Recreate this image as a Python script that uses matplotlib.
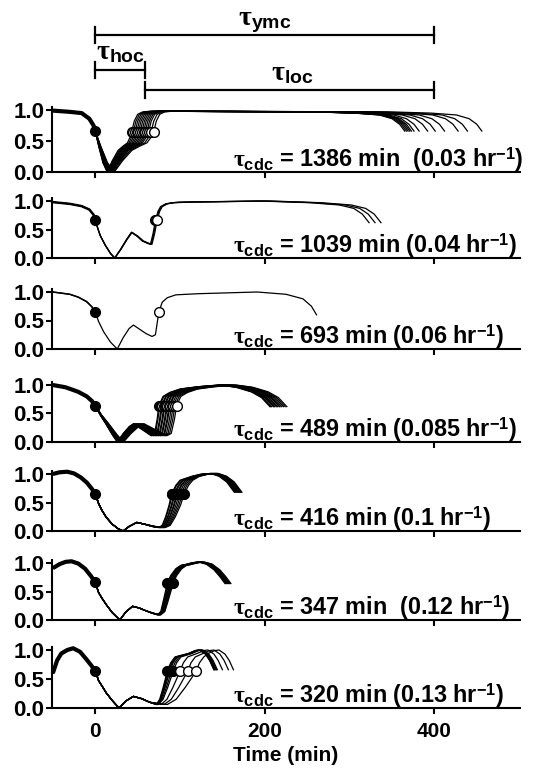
import numpy as np
import matplotlib
matplotlib.use('Agg')
import matplotlib.pyplot as plt

plt.rcParams['font.family'] = ['Liberation Sans', 'DejaVu Sans']
plt.rcParams['font.weight'] = 'bold'
plt.rcParams['mathtext.fontset'] = 'custom'
plt.rcParams['mathtext.rm'] = 'Liberation Serif'
plt.rcParams['mathtext.bf'] = 'Liberation Sans:bold'
plt.rcParams['mathtext.it'] = 'Liberation Serif:italic'

# ---- data (time in min, normalised level) ----
cdc_min = ['1386', '1039', '693', '489', '416', '347', '320']
rate_hr = ['0.03', '0.04', '0.06', '0.085', '0.1', '0.12', '0.13']
label_gap = ['  ', ' ', ' ', ' ', ' ', '  ', ' ']

# panel 1 (1386 min)
p1_head_x = [-50, -30, -16, -7, -2, 0]
p1_head_y = [0.99, 0.97, 0.95, 0.86, 0.75, 0.66]
p1_body_x = [0, 4, 9, 14, 20, 27, 33, 38, 41, 43, 46, 50, 56, 65]
p1_body_y = [0.66, 0.42, 0.15, 0.0, 0.18, 0.35, 0.42, 0.47, 0.56, 0.65, 0.82, 0.93, 0.97, 0.98]
p1_tail_dx = [-110, -60, -30, -15, -6, 0]
p1_tail_y = [0.97, 0.95, 0.92, 0.86, 0.77, 0.66]
p1_circles = [43, 45, 47, 49, 51, 53, 55, 57, 59, 61, 63, 66, 69]
p1_ends = [365, 367, 369, 371, 373, 376, 382, 392, 401, 412, 428, 439, 456]
p1_open = [True] * 13

# panel 2 (1039 min)
p2_head_x = [-50, -30, -16, -7, -2, 0]
p2_head_y = [0.98, 0.95, 0.91, 0.85, 0.76, 0.66]
p2_body_x = [0, 3, 6, 12, 18, 23, 30, 37, 43, 50, 56, 62, 66, 69, 72, 75, 78, 84, 92]
p2_body_y = [0.66, 0.52, 0.39, 0.22, 0.08, 0.0, 0.15, 0.32, 0.45, 0.38, 0.30, 0.26, 0.24, 0.42, 0.66, 0.82, 0.9, 0.95, 0.97]
p2_tail_dx = [-225, -130, -70, -35, -18, -8, 0]
p2_tail_y = [0.98, 1.0, 0.97, 0.93, 0.87, 0.77, 0.62]
p2_circles = [71, 72, 73]
p2_ends = [323, 330, 337]
p2_open = [True, True, True]

# panel 3 (693 min)
p3_head_x = [-50, -30, -20, -10, -4, 0]
p3_head_y = [1.0, 0.96, 0.91, 0.83, 0.74, 0.65]
p3_body_x = [0, 4, 10, 18, 26, 33, 40, 45, 52, 60, 67, 71, 73, 75, 79, 85, 95]
p3_body_y = [0.65, 0.48, 0.30, 0.12, 0.0, 0.2, 0.36, 0.42, 0.35, 0.27, 0.22, 0.25, 0.45, 0.65, 0.82, 0.90, 0.95]
p3_tail_dx = [-140, -70, -36, -16, -6, 0]
p3_tail_y = [0.97, 1.0, 0.96, 0.88, 0.75, 0.6]
p3_circles = [75]
p3_ends = [261]
p3_open = [True]

# panel 4 (489 min)
p4_head_x = [-50, -35, -20, -10, -4, 0]
p4_head_y = [1.0, 0.96, 0.88, 0.8, 0.72, 0.64]
p4_body_x = [0, 6, 12, 20, 26, 33, 40, 45, 52, 60, 66, 70, 73, 75, 80, 88, 100]
p4_body_y = [0.64, 0.47, 0.33, 0.13, 0.0, 0.15, 0.27, 0.32, 0.25, 0.17, 0.11, 0.15, 0.4, 0.64, 0.8, 0.87, 0.93]
p4_tail_dx = [-85, -60, -40, -22, -10, 0]
p4_tail_y = [0.97, 1.0, 0.96, 0.88, 0.78, 0.62]
p4_circles = [75, 76, 78, 79, 81, 82, 84, 85, 87, 88, 90, 92, 94, 96]
p4_ends = [206, 207, 208, 210, 211, 212, 214, 215, 217, 218, 220, 222, 224, 226]
p4_open = [True] * 14

# panel 5 (416 min)
p5_head_x = [-50, -42, -33, -25, -17, -10, -4, 0]
p5_head_y = [1.0, 1.03, 1.04, 1.01, 0.94, 0.85, 0.74, 0.65]
p5_body_x = [0, 4, 8, 13, 20, 27, 33, 40, 49, 58, 67, 75, 79, 83, 87, 90, 95, 100]
p5_body_y = [0.65, 0.48, 0.36, 0.24, 0.12, 0.04, 0.0, 0.08, 0.15, 0.12, 0.08, 0.06, 0.1, 0.25, 0.45, 0.65, 0.8, 0.89]
p5_tail_dx = [-50, -40, -28, -18, -9, 0]
p5_tail_y = [0.96, 0.995, 1.01, 0.96, 0.86, 0.68]
p5_circles = [90, 91, 93, 94, 96, 97, 99, 101, 103, 105]
p5_ends = [164, 165, 166, 167, 168, 169, 170, 171, 172, 173]
p5_open = [False] * 10

# panel 6 (347 min)
p6_head_x = [-50, -42, -35, -28, -20, -12, -5, 0]
p6_head_y = [0.91, 0.98, 1.02, 1.03, 0.99, 0.9, 0.77, 0.66]
p6_body_x = [0, 4, 8, 13, 20, 29, 36, 44, 52, 60, 67, 74, 78, 81, 84, 86, 90, 96, 102]
p6_body_y = [0.66, 0.48, 0.38, 0.27, 0.13, 0.0, 0.14, 0.24, 0.21, 0.16, 0.12, 0.09, 0.15, 0.33, 0.52, 0.65, 0.78, 0.9, 0.96]
p6_tail_dx = [-48, -40, -32, -22, -13, -6, 0]
p6_tail_y = [0.97, 1.0, 1.02, 0.98, 0.88, 0.76, 0.64]
p6_circles = [85, 86, 87, 88, 89, 90, 91, 92]
p6_ends = [153, 154, 155, 156, 157, 158, 159, 160]
p6_open = [False] * 8

# panel 7 (320 min)
p7_head_x = [-50, -45, -40, -33, -26, -18, -11, -5, 0]
p7_head_y = [0.6, 0.82, 0.94, 1.0, 1.03, 0.97, 0.85, 0.74, 0.64]
p7_body_x = [0, 4, 8, 13, 20, 28, 36, 45, 55, 64, 72, 76, 80, 83, 85, 89, 94]
p7_body_y = [0.64, 0.47, 0.38, 0.26, 0.13, 0.0, 0.12, 0.2, 0.16, 0.1, 0.06, 0.15, 0.35, 0.52, 0.64, 0.78, 0.88]
p7_tail_dx = [-30, -22, -17, -10, -5, 0]
p7_tail_y = [0.94, 0.99, 1.0, 0.93, 0.82, 0.66]
p7_circles = [85, 86, 87, 88, 90, 92, 100, 109, 119]
p7_ends = [140, 140, 141, 142, 143, 144, 150, 157, 163]
p7_open = [False] * 6 + [True] * 3

# reference circle time of each body template, and where traces start to diverge
ref_circle = [43, 72, 75, 75, 90, 86, 85]
pivots = [0, 20, 20, 0, 60, 60, 64]

# phase bars at the top: (start, end)
ymc_span = (0, 400)
hoc_span = (0, 59)
loc_span = (59, 400)

panels = [
    (p1_head_x, p1_head_y, p1_body_x, p1_body_y, p1_tail_dx, p1_tail_y, p1_circles, p1_ends, p1_open),
    (p2_head_x, p2_head_y, p2_body_x, p2_body_y, p2_tail_dx, p2_tail_y, p2_circles, p2_ends, p2_open),
    (p3_head_x, p3_head_y, p3_body_x, p3_body_y, p3_tail_dx, p3_tail_y, p3_circles, p3_ends, p3_open),
    (p4_head_x, p4_head_y, p4_body_x, p4_body_y, p4_tail_dx, p4_tail_y, p4_circles, p4_ends, p4_open),
    (p5_head_x, p5_head_y, p5_body_x, p5_body_y, p5_tail_dx, p5_tail_y, p5_circles, p5_ends, p5_open),
    (p6_head_x, p6_head_y, p6_body_x, p6_body_y, p6_tail_dx, p6_tail_y, p6_circles, p6_ends, p6_open),
    (p7_head_x, p7_head_y, p7_body_x, p7_body_y, p7_tail_dx, p7_tail_y, p7_circles, p7_ends, p7_open),
]

# ---- layout (pixels) ----
W, H = 542, 773
ax_left, ax_w = 52, 468
zero_px = [172, 258, 349, 442, 531, 620, 708]
unit_px = [62, 57, 57, 57, 57, 57, 58]
head_lw = [3.0, 1.8, 1.1, 3.0, 3.0, 3.0, 3.0]
XLIM = (-51, 501)
YTOP = 1.05


def build_trace(p, c0, pivot, c, end):
    hx, hy, bx, by, tdx, ty = p[:6]
    bx = np.asarray(bx, float)
    frac = np.clip((bx - pivot) / (c0 - pivot), 0, 1)
    bx2 = bx + (c - c0) * frac
    x = np.concatenate([hx, bx2[1:], end + np.asarray(tdx, float)])
    y = np.concatenate([hy, by[1:], ty])
    return x, y


fig = plt.figure(figsize=(W / 100, H / 100), dpi=100)

axes = []
for i, p in enumerate(panels):
    bottom = 1 - zero_px[i] / H
    height = unit_px[i] * YTOP / H
    ax = fig.add_axes([ax_left / W, bottom, ax_w / W, height])
    axes.append(ax)
    c0, pivot = ref_circle[i], pivots[i]
    circles, ends, opens = p[6], p[7], p[8]
    circ_y = np.interp(c0, p[2], p[3])
    for c, e in zip(circles, ends):
        x, y = build_trace(p, c0, pivot, c, e)
        ax.plot(x, y, color='black', lw=0.9, clip_on=False, zorder=2)
    ax.plot(p[0], p[1], color='black', lw=head_lw[i], clip_on=False, zorder=2,
            solid_capstyle='butt')
    ax.plot([0], [p[1][-1]], 'o', ms=7, color='black', clip_on=False, zorder=4)
    for c, o in zip(circles, opens):
        ax.plot([c], [circ_y], 'o', ms=7, mfc='white' if o else 'black',
                mec='black', mew=1.0, clip_on=False, zorder=4)

    lab = (r'$\mathrm{\tau}_{\mathbf{cdc}}$' + ' = ' + cdc_min[i] + ' min' + label_gap[i]
           + '(' + rate_hr[i] + ' hr' + r'$^{\mathbf{-1}}$' + ')')
    ax.text(162, 0.09, lab, fontsize=16.8, fontweight='bold', ha='left', va='baseline')

    ax.set_xlim(*XLIM)
    ax.set_ylim(0, YTOP)
    ax.set_yticks([0.0, 0.5, 1.0])
    ax.set_yticklabels(['0.0', '0.5', '1.0'])
    ax.set_xticks([0, 200, 400])
    for s in ['top', 'right']:
        ax.spines[s].set_visible(False)
    for s in ['left', 'bottom']:
        ax.spines[s].set_linewidth(1.5)
    ax.tick_params(axis='both', width=1.5, length=4, direction='out')
    ax.tick_params(axis='y', pad=1.5, labelsize=16)
    ax.tick_params(axis='x', pad=6, labelsize=15)
    ax.patch.set_alpha(0)
    if i < len(panels) - 1:
        ax.tick_params(axis='x', labelbottom=False)

axes[-1].set_xlabel('Time (min)', fontsize=15, fontweight='bold', labelpad=4)

# phase bars above the first panel
top_h = 100
ann = fig.add_axes([ax_left / W, 1 - top_h / H, ax_w / W, top_h / H])
ann.set_xlim(*XLIM)
ann.set_ylim(top_h, 0)
ann.axis('off')
bars = [(ymc_span, 35, r'$\mathrm{\tau}_{\mathbf{ymc}}$', 200, 25),
        (hoc_span, 70, r'$\mathrm{\tau}_{\mathbf{hoc}}$', 30, 59),
        (loc_span, 90, r'$\mathrm{\tau}_{\mathbf{loc}}$', 232, 80)]
for (x0, x1), yb, txt, tx, ty in bars:
    ann.plot([x0, x1], [yb, yb], color='black', lw=1.6, clip_on=False)
    for xe in (x0, x1):
        ann.plot([xe, xe], [yb - 8, yb + 8], color='black', lw=1.6, clip_on=False)
    ann.text(tx, ty, txt, fontsize=20, ha='center', va='baseline')

fig.savefig('out.png', dpi=100)
